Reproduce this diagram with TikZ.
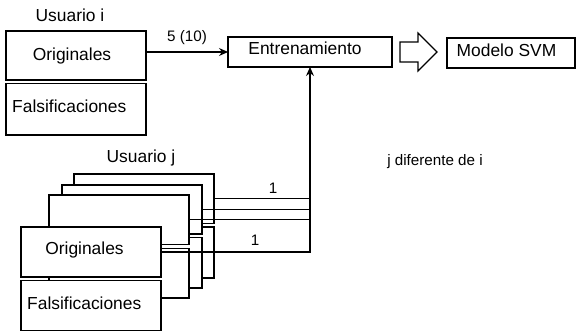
\documentclass[tikz,border=0pt]{standalone}
\usepackage{fontspec}
\setmainfont{Liberation Sans}
\usetikzlibrary{arrows.meta}
\begin{document}
\begin{tikzpicture}[x=1pt,y=-1pt,
  box/.style={draw=black,line width=1.1pt,fill=white,anchor=north west,inner sep=0pt,outer sep=0pt},
  big/.style={inner sep=0pt,font=\fontsize{17.4}{20}\selectfont},
  small/.style={inner sep=0pt,font=\fontsize{15.2}{18}\selectfont},
  conn/.style={draw=black,line width=1.1pt},
  arr/.style={conn,-{Stealth[length=9pt,width=8pt]}}]
\useasboundingbox (0,0) rectangle (577,331);
% Usuario i
\node[big] (ui) at (70,15) {Usuario i};
\node[box,minimum width=140,minimum height=49] (Oi) at (6,31) {};
\node[big] (tOi) at (72,56) {Originales};
\node[box,minimum width=140,minimum height=51.5] (Fi) at (6,83.5) {};
\node[big,anchor=west] (tFi) at (12,106) {Falsificaciones};
% Entrenamiento and model
\node[box,minimum width=164,minimum height=30] (ent) at (228,37) {};
\node[big] (tent) at (305,48) {Entrenamiento};
\node[box,minimum width=128,minimum height=30] (svm) at (447,38) {};
\node[big] (tsvm) at (506.5,50) {Modelo SVM};
\coordinate (ha) at (400,52);
\draw[line width=1.1pt] (ha) ++(0,-10) -- ++(18,0) -- ++(0,-9) -- (437,52) -- (418,71) -- ++(0,-9) -- ++(-18,0) -- cycle;
\draw[arr] (Oi.east |- ent.west) -- node[small,above=7pt] (l5) {5 (10)} (ent.west);
% Usuario j stacks
\node[big] (uj) at (141,158) {Usuario j};
\node[box,minimum width=140,minimum height=49.5] (o3) at (74,174) {};
\node[box,minimum width=140,minimum height=51] (f3) at (74,227) {};
\node[box,minimum width=140,minimum height=49] (o2) at (62,185) {};
\node[box,minimum width=140,minimum height=50.5] (f2) at (62,237.5) {};
\node[box,minimum width=140,minimum height=49.5] (o1) at (49,195) {};
\node[box,minimum width=140,minimum height=49.5] (f1) at (49,248.5) {};
\node[box,minimum width=140,minimum height=50] (fo) at (21,227) {};
\node[big] (tfo) at (84.5,250) {Originales};
\node[box,minimum width=140,minimum height=50] (ff) at (21,280.5) {};
\node[big,anchor=west] (tff) at (27,303) {Falsificaciones};
% connectors
\coordinate (j) at (ent.south |- fo.east);
\draw[conn] (o3.east) -- (ent.south |- o3.east);
\draw[conn] (o2.east) -- (ent.south |- o2.east);
\draw[conn] (o1.east) -- (ent.south |- o1.east);
\draw[arr] (fo.east) -- (j) -- (ent.south);
\node[small] (l1a) at (273,188) {1};
\node[small] (l1b) at (255,240) {1};
\node[small] (jd) at (435,162) {j diferente de i};
\end{tikzpicture}
\end{document}
